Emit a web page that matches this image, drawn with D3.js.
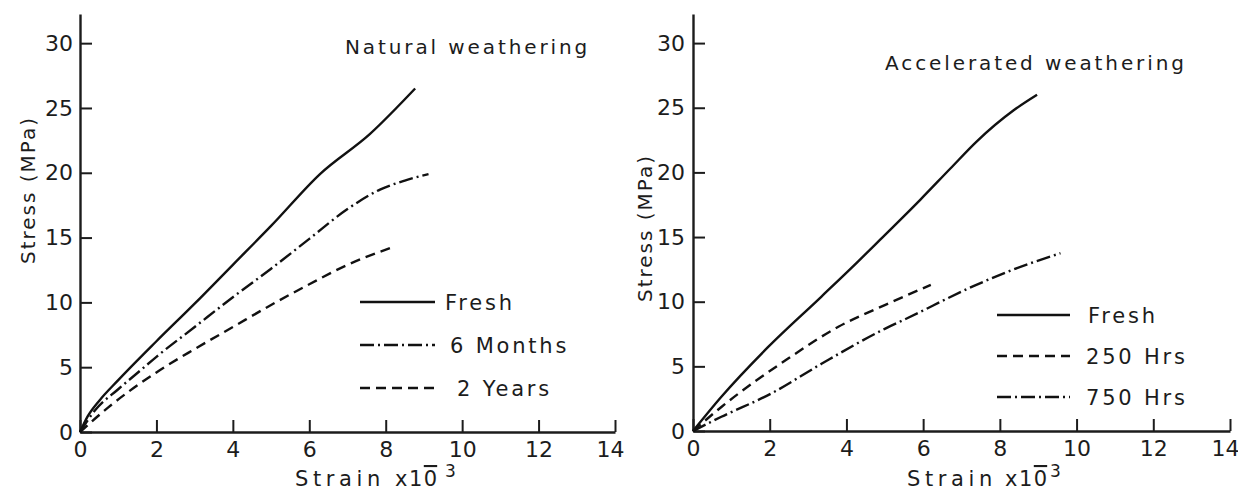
<!DOCTYPE html>
<html>
<head>
<meta charset="utf-8">
<script src="https://cdn.jsdelivr.net/npm/d3@7"></script>
<style>
  body { margin: 0; background: #fff; }
  svg text { font-family: 'DejaVu Sans', sans-serif; fill: #1c1c1c; }
</style>
</head>
<body>
<div id="chart"></div>
<script>
// axis ticks
const strainTicks = [0, 2, 4, 6, 8, 10, 12, 14];
const stressTicks = [0, 5, 10, 15, 20, 25, 30];

// natural weathering: [strain x10^-3, stress MPa]
const natFresh = [[0,0],[0.2,1.2],[0.5,2.4],[1,4.0],[2,7.0],[3,9.9],[4,12.9],[5,15.9],[6.28,19.9],[7.59,23.0],[8.77,26.5]];
const nat6Months = [[0,0],[0.4,1.7],[1,3.3],[1.6,4.8],[2,5.8],[3,8.1],[4,10.4],[5,12.6],[6,14.9],[7,17.2],[7.85,18.7],[8.5,19.4],[9.12,19.9]];
const nat2Years = [[0,0],[0.74,1.9],[2,4.6],[3,6.4],[4,8.1],[5,9.8],[6,11.4],[7,12.9],[8.12,14.2]];

// accelerated weathering
const accFresh = [[0,0],[0.74,2.65],[1.96,6.5],[3.35,10.4],[4.3,13.1],[4.88,14.8],[5.93,17.9],[6.71,20.3],[7.4,22.4],[8.36,24.8],[8.97,26.0]];
const acc250Hrs = [[0,0],[0.74,1.86],[2.48,5.6],[3.79,8.06],[5,9.74],[6.2,11.3]];
const acc750Hrs = [[0,0],[0.74,1.1],[2.04,2.9],[3.35,5.2],[5,7.9],[5.57,8.7],[7.31,11.2],[8.36,12.5],[9.58,13.75]];

const naturalLabels = ["Fresh", "6 Months", "2 Years"];
const acceleratedLabels = ["Fresh", "250 Hrs", "750 Hrs"];

const SOLID = null, DASHDOT = "14,4,2,4", DASHED = "10,6";

const svg = d3.select("#chart").append("svg")
  .attr("width", 1238)
  .attr("height", 491);

function drawPanel(p) {
  const x = d3.scaleLinear().domain([0, 14]).range([p.x0, p.x1]);
  const y = d3.scaleLinear().domain([0, 32.25]).range([p.y0, 14]);

  const g = svg.append("g");

  // x axis, ticks pointing up
  const xa = g.append("g")
    .attr("transform", `translate(0,${p.y0})`)
    .call(d3.axisBottom(x).tickValues(strainTicks).tickSize(-12).tickSizeOuter(0).tickPadding(9));
  // y axis, ticks pointing right
  const ya = g.append("g")
    .attr("transform", `translate(${p.x0},0)`)
    .call(d3.axisLeft(y).tickValues(stressTicks).tickSize(-12).tickSizeOuter(0).tickPadding(p.yPad));

  [xa, ya].forEach(a => {
    a.select(".domain").attr("stroke", "#1c1c1c").attr("stroke-width", 2.4);
    a.selectAll(".tick line").attr("stroke", "#1c1c1c").attr("stroke-width", 2);
    a.selectAll(".tick text").attr("font-size", 22).attr("fill", "#1c1c1c")
      .style("font-family", "'DejaVu Sans', sans-serif");
  });
  // last strain label sits a little left of its tick, as in the original
  xa.selectAll(".tick text").filter(d => d === 14).attr("dx", p.lastDx);

  // curves
  const line = d3.line()
    .x(d => x(d[0]))
    .y(d => y(d[1]))
    .curve(d3.curveMonotoneX);

  p.series.forEach(s => {
    g.append("path")
      .datum(s.data)
      .attr("fill", "none")
      .attr("stroke", "#111")
      .attr("stroke-width", 2.4)
      .attr("stroke-dasharray", s.dash)
      .attr("d", line);
  });

  // legend
  p.series.forEach((s, i) => {
    const ly = p.legY + i * p.legStep;
    g.append("line")
      .attr("x1", p.legX0).attr("x2", p.legX1)
      .attr("y1", ly).attr("y2", ly)
      .attr("stroke", "#111").attr("stroke-width", 2.4)
      .attr("stroke-dasharray", s.dash);
    g.append("text")
      .attr("x", p.legTextX[i]).attr("y", ly + 8)
      .attr("font-size", 21)
      .attr("letter-spacing", 2.8)
      .text(p.labels[i]);
  });

  // title
  g.append("text")
    .attr("x", p.titleX).attr("y", p.titleY)
    .attr("font-size", 20)
    .attr("letter-spacing", 2.9)
    .text(p.title);

  // y label
  g.append("text")
    .attr("transform", `translate(${p.yLabX},${p.yLabY}) rotate(-90)`)
    .attr("text-anchor", "middle")
    .attr("font-size", 20)
    .attr("letter-spacing", 2.0)
    .text("Stress (MPa)");

  // x label: Strain x10^-3 (overbar on the 0, superscript 3)
  const xl = g.append("text")
    .attr("y", 486)
    .attr("font-size", 21)
    .attr("letter-spacing", 4.6);
  xl.append("tspan").attr("x", p.xLabX).text("Strain");
  xl.append("tspan").attr("x", p.xLabX + p.xOff[0]).attr("letter-spacing", 1.5).text("x1");
  xl.append("tspan").attr("text-decoration", "overline").attr("letter-spacing", 0).text("0");
  xl.append("tspan").attr("x", p.xLabX + p.xOff[1]).attr("dy", -9)
    .attr("font-size", 17).attr("letter-spacing", 0).text("3");
}

drawPanel({
  x0: 80, x1: 615, y0: 432, yPad: 7, lastDx: -5,
  title: "Natural weathering", titleX: 345, titleY: 54,
  labels: naturalLabels,
  series: [
    { data: natFresh, dash: SOLID },
    { data: nat6Months, dash: DASHDOT },
    { data: nat2Years, dash: DASHED }
  ],
  legX0: 360, legX1: 435, legY: 302, legStep: 43, legTextX: [445, 450, 457],
  yLabX: 35, yLabY: 190,
  xLabX: 295, xOff: [100, 150]
});

drawPanel({
  x0: 693, x1: 1230, y0: 431, yPad: 8, lastDx: -5,
  title: "Accelerated weathering", titleX: 885, titleY: 70,
  labels: acceleratedLabels,
  series: [
    { data: accFresh, dash: SOLID },
    { data: acc250Hrs, dash: DASHED },
    { data: acc750Hrs, dash: DASHDOT }
  ],
  legX0: 997, legX1: 1070, legY: 315, legStep: 41, legTextX: [1088, 1086, 1086],
  yLabX: 652, yLabY: 228,
  xLabX: 907, xOff: [98, 143]
});
</script>
</body>
</html>
